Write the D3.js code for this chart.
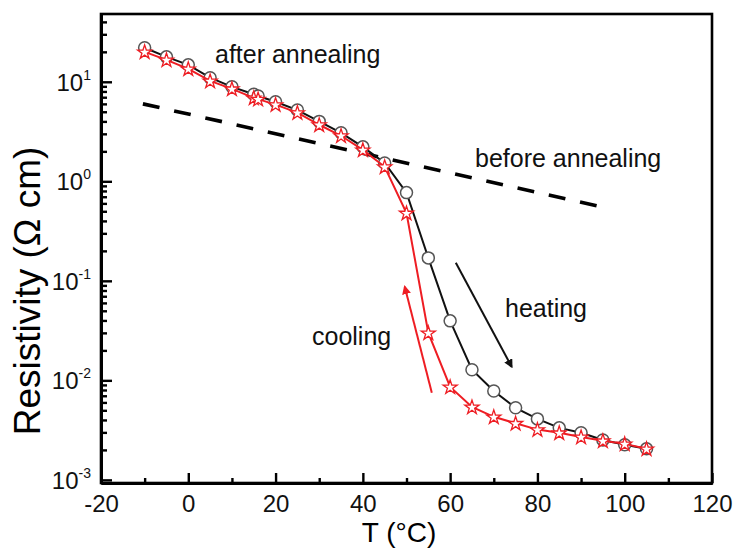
<!DOCTYPE html>
<html>
<head>
<meta charset="utf-8">
<script src="https://cdn.jsdelivr.net/npm/d3@7"></script>
<style>
  html, body { margin: 0; padding: 0; background: #fff; }
  svg { display: block; font-family: "Liberation Sans", Arial, sans-serif; }
</style>
</head>
<body>
<svg id="chart" width="736" height="548"></svg>
<script>
// Temperature (°C) of each measurement
const heatingT = [-10, -5, 0, 5, 10, 15, 16, 20, 25, 30, 35, 40, 45, 50, 55, 60, 65, 70, 75, 80, 85, 90, 95, 100, 105];
// Resistivity (Ω cm) on heating, after annealing
const heatingRho = [22.0, 17.8, 14.8, 11.0, 8.9, 7.5, 7.2, 6.3, 5.2, 4.0, 3.07, 2.22, 1.53, 0.77, 0.170, 0.0396, 0.0128, 0.0078, 0.0053, 0.0041, 0.00333, 0.00297, 0.00252, 0.00225, 0.00205];

const coolingT = [-10, -5, 0, 5, 10, 15, 16, 20, 25, 30, 35, 40, 45, 50, 55, 60, 65, 70, 75, 80, 85, 90, 95, 100, 105];
// Resistivity (Ω cm) on cooling, after annealing
const coolingRho = [20.0, 16.6, 13.5, 10.2, 8.5, 6.9, 6.7, 5.9, 4.9, 3.7, 2.87, 2.07, 1.40, 0.48, 0.030, 0.0086, 0.0054, 0.0043, 0.0037, 0.0032, 0.00297, 0.0027, 0.00247, 0.0023, 0.00205];

// Trend of the sample before annealing (straight on the log axis)
const beforeT = [-10.4, 96.6];
const beforeRho = [6.0, 0.53];

// Direction arrows [T, rho] start -> end
const heatArrow = [[61.3, 0.152], [74.1, 0.0137]];
const coolArrow = [[55.8, 0.0075], [49.6, 0.087]];

const xMajorTicks = [-20, 0, 20, 40, 60, 80, 100, 120];
const xMinorTicks = [-10, 10, 30, 50, 70, 90, 110];
const yDecadeExps = [-3, -2, -1, 0, 1];

const svg = d3.select("#chart");
const plotL = 101, plotR = 712, plotT = 14, plotB = 483;

const x = d3.scaleLinear().domain([-20, 120]).range([plotL, plotR]);
const y = d3.scaleLog().domain([9.3e-4, 48]).range([plotB, plotT]);

const RED = "#ee1d23";

// y minor ticks: 2..9 in every decade
const yMinor = [];
yDecadeExps.forEach(e => {
  for (let k = 2; k <= 9; k++) {
    const v = k * Math.pow(10, e);
    if (v <= 48) yMinor.push(v);
  }
});
const yMajor = yDecadeExps.map(e => Math.pow(10, e));

// frame
svg.append("rect")
  .attr("x", plotL).attr("y", plotT)
  .attr("width", plotR - plotL).attr("height", plotB - plotT)
  .attr("fill", "none").attr("stroke", "#000").attr("stroke-width", 2.6);

// x axis
const gx = svg.append("g").attr("transform", `translate(0,${plotB})`);
gx.call(d3.axisBottom(x).tickValues(xMinorTicks).tickSizeInner(-5).tickSizeOuter(0).tickFormat(""));
const gx2 = svg.append("g").attr("transform", `translate(0,${plotB})`);
gx2.call(d3.axisBottom(x).tickValues(xMajorTicks).tickSizeInner(-10).tickSizeOuter(0)
  .tickPadding(12).tickFormat(d => String(d)));
[gx, gx2].forEach(g => {
  g.select(".domain").attr("stroke-width", 3);
  g.selectAll(".tick line").attr("stroke-width", 2.4);
});
gx2.selectAll(".tick text")
  .attr("font-size", 24).attr("fill", "#111")
  .attr("font-family", "Liberation Sans, Arial, sans-serif");

// y axis
const gy = svg.append("g").attr("transform", `translate(${plotL},0)`);
gy.call(d3.axisLeft(y).tickValues(yMinor).tickSizeInner(-6).tickSizeOuter(0).tickFormat(""));
const gy2 = svg.append("g").attr("transform", `translate(${plotL},0)`);
gy2.call(d3.axisLeft(y).tickValues(yMajor).tickSizeInner(-11).tickSizeOuter(0).tickFormat(""));
[gy, gy2].forEach(g => {
  g.select(".domain").attr("stroke-width", 3);
  g.selectAll(".tick line").attr("stroke-width", 2.4);
});

// y tick labels as powers of ten
const yl = svg.append("g").attr("fill", "#111");
yDecadeExps.forEach(e => {
  const t = yl.append("text")
    .attr("x", 91).attr("y", y(Math.pow(10, e)) + 9)
    .attr("text-anchor", "end");
  t.append("tspan").attr("font-size", 24).text("10");
  t.append("tspan").attr("font-size", 14).attr("dy", -11).text(String(e));
});

// axis titles
svg.append("text")
  .attr("transform", `translate(40,291) rotate(-90)`)
  .attr("text-anchor", "middle").attr("font-size", 37).attr("fill", "#000")
  .text("Resistivity (Ω cm)");
svg.append("text")
  .attr("x", 399).attr("y", 542)
  .attr("text-anchor", "middle").attr("font-size", 28).attr("fill", "#000")
  .text("T (°C)");

// before annealing (dashed)
svg.append("path")
  .attr("d", d3.line().x(d => x(d[0])).y(d => y(d[1]))(beforeT.map((t, i) => [t, beforeRho[i]])))
  .attr("fill", "none").attr("stroke", "#000").attr("stroke-width", 3.6)
  .attr("stroke-dasharray", "17,15");

const line = d3.line().x(d => x(d[0])).y(d => y(d[1]));
const heat = heatingT.map((t, i) => [t, heatingRho[i]]);
const cool = coolingT.map((t, i) => [t, coolingRho[i]]);

svg.append("path").attr("d", line(heat))
  .attr("fill", "none").attr("stroke", "#111").attr("stroke-width", 2);
svg.append("g").selectAll("circle").data(heat).join("circle")
  .attr("cx", d => x(d[0])).attr("cy", d => y(d[1])).attr("r", 6)
  .attr("fill", "#fff").attr("stroke", "#555").attr("stroke-width", 1.5);

svg.append("path").attr("d", line(cool))
  .attr("fill", "none").attr("stroke", RED).attr("stroke-width", 2);
const star = d3.symbol().type(d3.symbolStar).size(62);
svg.append("g").selectAll("path").data(cool).join("path")
  .attr("transform", d => `translate(${x(d[0])},${y(d[1]) + 0.5})`)
  .attr("d", star)
  .attr("fill", "#fff").attr("stroke", RED).attr("stroke-width", 1.3);

// arrows
const defs = svg.append("defs");
function marker(id, color) {
  defs.append("marker").attr("id", id)
    .attr("viewBox", "0 0 10 10").attr("refX", 8).attr("refY", 5)
    .attr("markerWidth", 4.5).attr("markerHeight", 4.5).attr("orient", "auto")
    .append("path").attr("d", "M0,0 L10,5 L0,10 Z").attr("fill", color);
}
marker("ahBlack", "#111");
marker("ahRed", RED);
svg.append("line")
  .attr("x1", x(heatArrow[0][0])).attr("y1", y(heatArrow[0][1]))
  .attr("x2", x(heatArrow[1][0])).attr("y2", y(heatArrow[1][1]))
  .attr("stroke", "#111").attr("stroke-width", 2).attr("marker-end", "url(#ahBlack)");
svg.append("line")
  .attr("x1", x(coolArrow[0][0])).attr("y1", y(coolArrow[0][1]))
  .attr("x2", x(coolArrow[1][0])).attr("y2", y(coolArrow[1][1]))
  .attr("stroke", RED).attr("stroke-width", 2).attr("marker-end", "url(#ahRed)");

// annotations
const notes = [
  { text: "after annealing", x: 215, y: 63 },
  { text: "before annealing", x: 475, y: 167 },
  { text: "heating", x: 505, y: 317 },
  { text: "cooling", x: 312, y: 345 }
];
svg.append("g").selectAll("text").data(notes).join("text")
  .attr("x", d => d.x).attr("y", d => d.y)
  .attr("font-size", 25).attr("fill", "#111")
  .text(d => d.text);
</script>
</body>
</html>
